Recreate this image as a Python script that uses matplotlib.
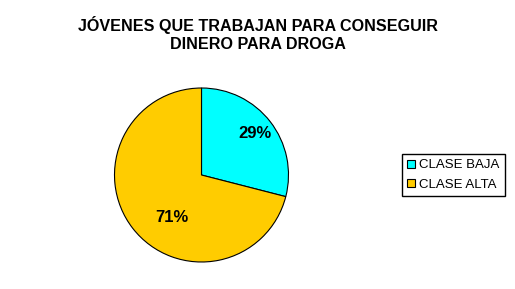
import matplotlib
matplotlib.use("Agg")
import matplotlib.pyplot as plt
import numpy as np

plt.rcParams['font.family'] = ['Liberation Sans', 'DejaVu Sans']

# data
title_lines = ["JÓVENES QUE TRABAJAN PARA CONSEGUIR", "DINERO PARA DROGA"]
categories = ["CLASE BAJA", "CLASE ALTA"]
values = [29, 71]
colors = ["#00FFFF", "#FFCC00"]
label_dist = [0.78, 0.6]      # how far from centre each % label sits
label_shift = [0.0, 17.0]     # degrees off the wedge middle

W, H = 515, 289
fig = plt.figure(figsize=(W / 100, H / 100), dpi=100)
fig.patch.set_facecolor("white")

# pie axes: centre (201.5, 175) px, radius 87 px
cx, cy, r = 201.5, 175, 87
ax = fig.add_axes([(cx - r) / W, 1 - (cy + r) / H, 2 * r / W, 2 * r / H])
wedges, _ = ax.pie(values, colors=colors, startangle=90, counterclock=False,
                   wedgeprops=dict(edgecolor="black", linewidth=0.8))
ax.set_xlim(-1, 1)
ax.set_ylim(-1, 1)
ax.set_aspect("auto")
ax.axis("off")

for w, v, d, s in zip(wedges, values, label_dist, label_shift):
    mid = np.deg2rad((w.theta1 + w.theta2) / 2 + s)
    ax.text(d * np.cos(mid), d * np.sin(mid), f"{v}%", ha="center", va="center",
            fontsize=12, fontweight="bold")

# title
fig.text(0.5, 1 - 25 / H, title_lines[0], ha="center", va="center",
         fontsize=11.6, fontweight="bold")
fig.text(0.5, 1 - 45 / H, title_lines[1], ha="center", va="center",
         fontsize=11.6, fontweight="bold")

# legend box
leg = fig.legend(wedges, categories, loc="upper left",
                 bbox_to_anchor=(402 / W, 1 - 154 / H), borderaxespad=0,
                 fontsize=9.5, handlelength=0.55, handleheight=0.55,
                 handletextpad=0.35, labelspacing=0.55, borderpad=0.4,
                 fancybox=False, framealpha=1, edgecolor="black")
leg.get_frame().set_linewidth(1.0)

fig.savefig("out.png", dpi=100)
